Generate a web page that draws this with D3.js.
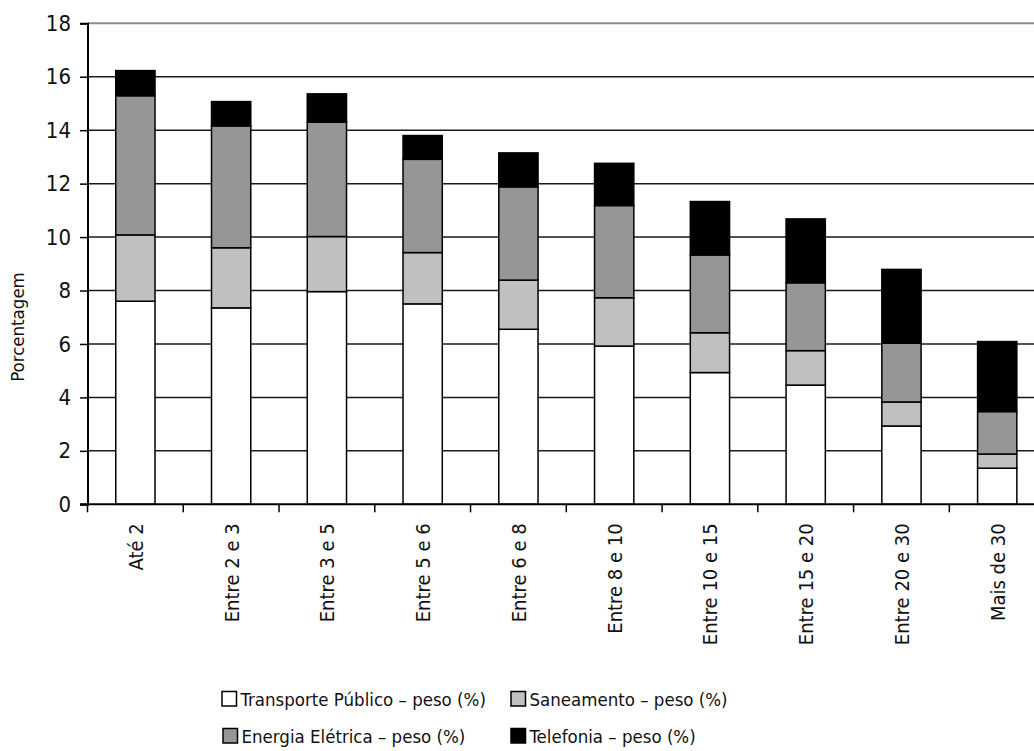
<!DOCTYPE html>
<html>
<head>
<meta charset="utf-8">
<script src="https://cdn.jsdelivr.net/npm/d3@7/dist/d3.min.js"></script>
<style>
  html, body { margin: 0; padding: 0; background: #fff; }
  svg { display: block; font-family: "DejaVu Sans Condensed", "DejaVu Sans", sans-serif; }
</style>
</head>
<body>
<svg id="chart" width="1034" height="751"></svg>
<script>
// Faixas de renda (salários mínimos)
const categories = ["Até 2", "Entre 2 e 3", "Entre 3 e 5", "Entre 5 e 6", "Entre 6 e 8",
                    "Entre 8 e 10", "Entre 10 e 15", "Entre 15 e 20", "Entre 20 e 30", "Mais de 30"];

// Peso (%) de cada serviço no orçamento
const transportePublico = [7.60, 7.35, 7.96, 7.50, 6.55, 5.92, 4.93, 4.46, 2.93, 1.35];
const saneamento        = [2.48, 2.25, 2.06, 1.92, 1.84, 1.81, 1.49, 1.29, 0.90, 0.53];
const energiaEletrica   = [5.21, 4.56, 4.28, 3.49, 3.49, 3.45, 2.91, 2.54, 2.20, 1.59];
const telefonia         = [0.94, 0.91, 1.06, 0.89, 1.27, 1.58, 2.00, 2.39, 2.76, 2.62];

const seriesNames = ["Transporte Público – peso (%)", "Saneamento – peso (%)",
                     "Energia Elétrica – peso (%)", "Telefonia – peso (%)"];
const seriesColors = ["#ffffff", "#c0c0c0", "#969696", "#000000"];
const yTicks = [0, 2, 4, 6, 8, 10, 12, 14, 16, 18];
const yTitle = "Porcentagem";

const keys = ["t", "s", "e", "f"];
const rows = categories.map((c, i) => ({
  cat: c, t: transportePublico[i], s: saneamento[i], e: energiaEletrica[i], f: telefonia[i]
}));

const svg = d3.select("#chart");
const plotLeft = 87.5, plotTop = 23.3, plotBottom = 504.3, plotRight = 1045.1;

const x = d3.scaleBand().domain(categories).range([plotLeft, plotRight])
  .paddingInner(0.59).paddingOuter(0.295);
const y = d3.scaleLinear().domain([0, 18]).range([plotBottom, plotTop]);

// Linhas de grade
svg.append("g").selectAll("line").data(yTicks.filter(v => v > 0)).join("line")
  .attr("x1", plotLeft).attr("x2", 1034)
  .attr("y1", d => y(d)).attr("y2", d => y(d))
  .attr("stroke", d => d === 18 ? "#8a8a8a" : "#1a1a1a")
  .attr("stroke-width", d => d === 18 ? 2 : 1.5);

// Barras empilhadas
const stacked = d3.stack().keys(keys)(rows);
svg.append("g").selectAll("g").data(stacked).join("g")
  .attr("fill", (d, i) => seriesColors[i])
  .selectAll("rect").data(d => d).join("rect")
  .attr("x", d => x(d.data.cat))
  .attr("width", x.bandwidth())
  .attr("y", d => y(d[1]))
  .attr("height", d => y(d[0]) - y(d[1]))
  .attr("stroke", "#000").attr("stroke-width", 1.5);

// Eixo Y
const yAxis = svg.append("g").attr("transform", `translate(${plotLeft},0)`)
  .call(d3.axisLeft(y).tickValues(yTicks).tickSize(7.5).tickPadding(9));
yAxis.select(".domain").attr("stroke", "#000").attr("stroke-width", 2);
yAxis.selectAll(".tick line").attr("stroke", "#000").attr("stroke-width", 1.5);
yAxis.selectAll(".tick text").attr("font-size", 22).attr("fill", "#111")
  .attr("font-family", "'DejaVu Sans Condensed', 'DejaVu Sans', sans-serif");

// Eixo X
svg.append("line").attr("x1", plotLeft - 7.5).attr("x2", 1034)
  .attr("y1", plotBottom).attr("y2", plotBottom)
  .attr("stroke", "#000").attr("stroke-width", 2);
const step = x.step();
const bounds = d3.range(categories.length + 1).map(i => plotLeft + i * step);
svg.append("g").selectAll("line").data(bounds).join("line")
  .attr("x1", d => d).attr("x2", d => d)
  .attr("y1", plotBottom).attr("y2", plotBottom + 8)
  .attr("stroke", "#000").attr("stroke-width", 1.5);

svg.append("g").selectAll("text").data(categories).join("text")
  .attr("transform", d => `translate(${x(d) + x.bandwidth() / 2 + 7.5},${plotBottom + 19}) rotate(-90)`)
  .attr("text-anchor", "end")
  .attr("font-size", 20).attr("fill", "#111")
  .text(d => d);

// Título do eixo Y
svg.append("text")
  .attr("transform", `translate(24,327) rotate(-90)`)
  .attr("text-anchor", "middle")
  .attr("font-size", 18.5).attr("fill", "#111")
  .text(yTitle);

// Legenda
const legendPos = [[222, 706], [511, 706], [223, 743], [511, 743]];
const legend = svg.append("g").selectAll("g").data(seriesNames).join("g")
  .attr("transform", (d, i) => `translate(${legendPos[i][0]},${legendPos[i][1]})`);
legend.append("rect")
  .attr("x", 0).attr("y", -14.5).attr("width", 14.5).attr("height", 14.5)
  .attr("fill", (d, i) => seriesColors[i])
  .attr("stroke", "#000").attr("stroke-width", 1.5);
legend.append("text")
  .attr("x", 18.5).attr("y", 0)
  .attr("font-size", 18.5).attr("fill", "#111")
  .text(d => d);
</script>
</body>
</html>
